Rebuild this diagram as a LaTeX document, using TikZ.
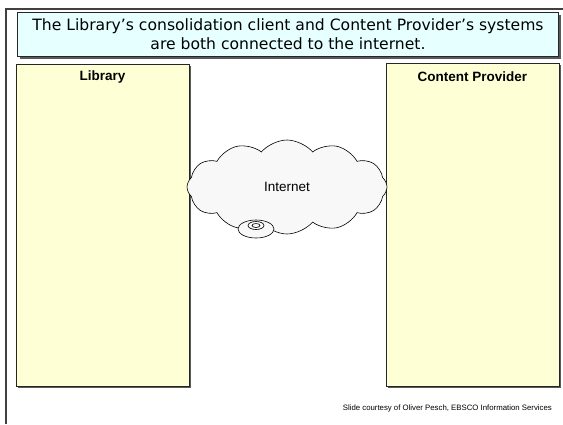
\documentclass[tikz,border=0pt]{standalone}
\usepackage{fontspec}
\setmainfont{Liberation Sans}
\newfontfamily\titlefont{DejaVu Sans}
\usetikzlibrary{positioning,shapes.symbols}

\definecolor{titlefill}{RGB}{230,255,255}
\definecolor{panelfill}{RGB}{255,255,213}
\definecolor{cloudfill}{RGB}{248,248,248}

\begin{document}
\begin{tikzpicture}
    [x=1pt,y=-1pt,
    frame/.style={draw=black!75,line width=1.6pt},
    shade/.style={fill=black!65,draw=none},
    titlebox/.style={draw=black!85,fill=titlefill,line width=.7pt},
    panel/.style={draw=black!85,fill=panelfill,line width=.7pt},
    label/.style={font=\bfseries\fontsize{13.5}{16}\selectfont,inner sep=0pt},
    every node/.style={inner sep=0pt}]
    \useasboundingbox (0,0) rectangle (563,424);
    % slide frame
    \draw[frame] (6,424) -- (6,9) -- (563,9);
    % title
    \fill[shade] (20,15) rectangle (561,59);
    \filldraw[titlebox] (17,12) rectangle (558,56);
    \node[align=center,font=\titlefont\fontsize{15.6}{18.5}\selectfont] (title)
      at (288,34) {The Library’s consolidation client and Content Provider’s systems\\
      are both connected to the internet.};
    % panels
    \fill[shade] (18,66) rectangle (191,388);
    \filldraw[panel] (16,64) rectangle (189,386);
    \node[label] (lib) at (102.5,77) {Library};
    \fill[shade] (388,65) rectangle (561,388);
    \filldraw[panel] (386,63) rectangle (559,386);
    \node[label] (cp) at (472.5,77) {Content Provider};
    % cloud
    \node[cloud,cloud puffs=12,cloud puff arc=100,aspect=2.4,draw=black,fill=cloudfill,
      line width=.6pt,minimum width=200pt,minimum height=94pt,
      font=\fontsize{13.5}{16}\selectfont] (net) at (287,187) {Internet};
    \filldraw[fill=cloudfill,draw=black,line width=.6pt] (256,229) ellipse [x radius=18,y radius=9];
    \draw[line width=.6pt] (256,225.5) ellipse [x radius=8,y radius=4];
    \draw[line width=.6pt] (256,225.5) ellipse [x radius=4,y radius=2];
    % credit
    \node[anchor=east,font=\fontsize{7.8}{9}\selectfont] (credit) at (552,408)
      {Slide courtesy of Oliver Pesch, EBSCO Information Services};
\end{tikzpicture}
\end{document}
